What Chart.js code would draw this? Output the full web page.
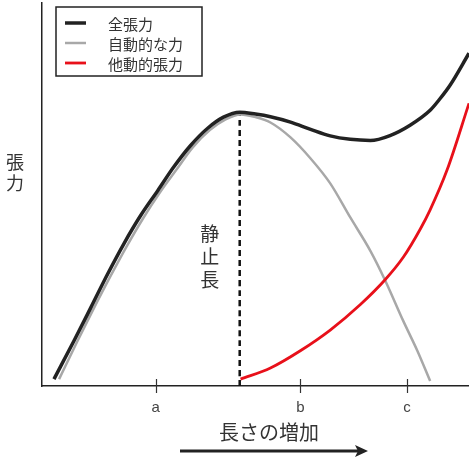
<!DOCTYPE html>
<html>
<head>
<meta charset="utf-8">
<script src="https://cdn.jsdelivr.net/npm/chart.js@4.4.0/dist/chart.umd.min.js"></script>
<style>
  html, body { margin: 0; padding: 0; background: #fff; }
  #wrap { width: 469px; height: 458px; }
</style>
</head>
<body>
<div id="wrap"><canvas id="muscleChart"></canvas></div>
<script>
// 張力-長さ曲線 (値は図から読み取り)
const seriesNames = ['全張力', '自動的な力', '他動的張力'];

const totalX = [2.8, 7.5, 11.4, 15.4, 19.2, 23.1, 27.1, 30.8, 34.8, 38.8, 42.5, 46.3, 50.0, 53.5, 58.2, 62.9, 67.5, 72.2, 76.9, 81.5, 86.2, 90.9, 93.2, 95.6, 100];
const totalY = [1.8, 11.8, 20.4, 29.3, 37.2, 44.5, 51.0, 57.1, 62.8, 67.3, 70.2, 71.5, 71.0, 70.3, 68.9, 67.0, 65.3, 64.4, 64.1, 65.4, 68.1, 72.0, 75.0, 78.6, 86.9];

const activeX = [4.0, 8.2, 12.1, 16.1, 19.9, 23.8, 27.6, 31.5, 35.3, 39.3, 43.0, 46.5, 50.0, 53.5, 58.2, 62.9, 67.5, 72.2, 76.9, 80.4, 84.6, 87.9, 90.9];
const activeY = [1.8, 11.5, 20.2, 28.8, 36.6, 44.0, 50.5, 56.5, 62.3, 66.8, 69.6, 70.9, 70.2, 68.8, 64.9, 59.4, 52.9, 44.0, 35.3, 27.5, 17.0, 9.2, 1.3];

const passiveX = [46.5, 53.5, 60.5, 67.5, 74.5, 80.4, 84.6, 88.6, 90.9, 94.9, 100];
const passiveY = [1.8, 4.7, 9.2, 14.6, 21.2, 27.8, 33.6, 41.0, 46.0, 56.5, 73.8];

const restLength = 46.3;
const restPeak = 71.5;

const tickValues = [26.6, 60.5, 85.5];
const tickLabels = ['a', 'b', 'c'];

function toPoints(xs, ys) {
    return xs.map(function (x, i) { return { x: x, y: ys[i] }; });
}

const jpFont = '"Noto Sans CJK JP", "Noto Sans", sans-serif';

// 凡例・注記・軸目盛りの描画
const extras = {
    id: 'extras',
    afterDraw: function (chart) {
        const ctx = chart.ctx;
        const xs = chart.scales.x;
        const area = chart.chartArea;
        ctx.save();

        // 目盛り線 (軸をまたぐ)
        ctx.strokeStyle = '#333';
        ctx.lineWidth = 1.2;
        tickValues.forEach(function (v) {
            const px = Math.round(xs.getPixelForValue(v)) + 0.5;
            ctx.beginPath();
            ctx.moveTo(px, area.bottom - 7);
            ctx.lineTo(px, area.bottom + 7);
            ctx.stroke();
        });

        ctx.fillStyle = '#333';
        ctx.textAlign = 'center';
        ctx.textBaseline = 'middle';

        // 縦軸タイトル
        ctx.font = '18px ' + jpFont;
        ctx.fillText('張', 15, 162);
        ctx.fillText('力', 15, 183);

        // 静止長
        ctx.font = '19px ' + jpFont;
        const rx = xs.getPixelForValue(restLength) - 30;
        ['静', '止', '長'].forEach(function (ch, i) {
            ctx.fillText(ch, rx, 234 + i * 23);
        });

        // 横軸タイトルと矢印
        ctx.font = '20px ' + jpFont;
        ctx.fillText('長さの増加', 269, 432);
        ctx.strokeStyle = '#222';
        ctx.lineWidth = 3;
        ctx.beginPath();
        ctx.moveTo(180, 451);
        ctx.lineTo(362, 451);
        ctx.stroke();
        ctx.fillStyle = '#222';
        ctx.beginPath();
        ctx.moveTo(368, 451);
        ctx.lineTo(355, 445);
        ctx.lineTo(358, 451);
        ctx.lineTo(355, 457);
        ctx.closePath();
        ctx.fill();

        // 凡例
        ctx.fillStyle = '#fff';
        ctx.fillRect(56, 7, 146, 69);
        ctx.strokeStyle = '#222';
        ctx.lineWidth = 1.5;
        ctx.strokeRect(56, 7, 146, 69);
        ctx.font = '15px ' + jpFont;
        ctx.textAlign = 'left';
        for (let i = 0; i < 3; i++) {
            const ds = chart.data.datasets[i];
            const y = 23 + i * 20;
            ctx.strokeStyle = ds.borderColor;
            ctx.lineWidth = ds.borderWidth;
            ctx.beginPath();
            ctx.moveTo(65, y);
            ctx.lineTo(86, y);
            ctx.stroke();
            ctx.fillStyle = '#333';
            ctx.fillText(ds.label, 108, y + 1);
        }
        ctx.restore();
    }
};

const ctx = document.getElementById('muscleChart').getContext('2d');
const myChart = new Chart(ctx, {
    type: 'line',
    data: {
        datasets: [{
            label: seriesNames[0],
            data: toPoints(totalX, totalY),
            borderColor: '#222',
            borderWidth: 3.5,
            order: 1
        }, {
            label: seriesNames[1],
            data: toPoints(activeX, activeY),
            borderColor: '#a8a8a8',
            borderWidth: 2.5,
            order: 2
        }, {
            label: seriesNames[2],
            data: toPoints(passiveX, passiveY),
            borderColor: '#e8101a',
            borderWidth: 2.8,
            order: 0
        }, {
            label: 'rest',
            data: [{ x: restLength, y: 0 }, { x: restLength, y: restPeak }],
            borderColor: '#111',
            borderWidth: 2.5,
            borderDash: [6, 4],
            tension: 0,
            order: 3
        }]
    },
    options: {
        responsive: true,
        maintainAspectRatio: false,
        animation: false,
        layout: {
            padding: { left: 34, top: 3, right: 0, bottom: 36 }
        },
        elements: {
            point: { radius: 0 },
            line: { cubicInterpolationMode: 'monotone' }
        },
        plugins: {
            legend: { display: false },
            tooltip: { enabled: false }
        },
        scales: {
            x: {
                type: 'linear',
                min: 0,
                max: 100,
                afterBuildTicks: function (axis) {
                    axis.ticks = tickValues.map(function (v) { return { value: v }; });
                },
                ticks: {
                    autoSkip: false,
                    maxRotation: 0,
                    padding: 5,
                    color: '#444',
                    font: { family: 'Liberation Sans', size: 15 },
                    callback: function (value, index) { return tickLabels[index]; }
                },
                grid: { display: false },
                border: { display: true, color: '#222', width: 1.5 }
            },
            y: {
                min: 0,
                max: 100,
                ticks: { display: false },
                grid: { display: false },
                border: { display: true, color: '#222', width: 1.5 }
            }
        }
    },
    plugins: [extras]
});
</script>
</body>
</html>
